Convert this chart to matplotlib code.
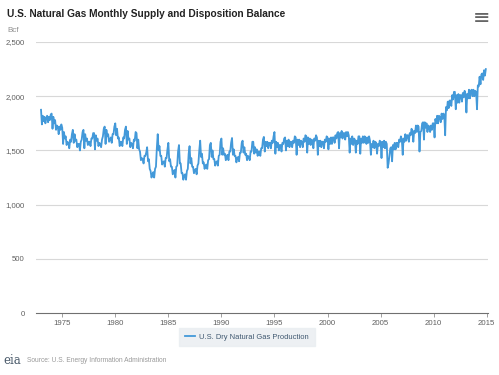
import numpy as np
import pandas as pd
import matplotlib
matplotlib.use("Agg")
import matplotlib.pyplot as plt
import matplotlib.dates as mdates

plt.rcParams["font.family"] = ["Liberation Sans", "DejaVu Sans"]

# Monthly U.S. dry natural gas production (Bcf), Jan..Dec of each year
production = {
    1973: [1875, 1740, 1820, 1770, 1810, 1750, 1800, 1820, 1760, 1810, 1780, 1830],
    1974: [1840, 1700, 1810, 1750, 1780, 1690, 1730, 1720, 1650, 1720, 1690, 1740],
    1975: [1710, 1560, 1670, 1610, 1630, 1550, 1580, 1570, 1520, 1600, 1580, 1650],
    1976: [1690, 1570, 1650, 1590, 1600, 1530, 1560, 1560, 1500, 1580, 1600, 1670],
    1977: [1690, 1520, 1650, 1590, 1610, 1550, 1580, 1580, 1540, 1610, 1610, 1660],
    1978: [1660, 1510, 1640, 1590, 1610, 1540, 1570, 1560, 1530, 1600, 1630, 1700],
    1979: [1720, 1560, 1690, 1630, 1650, 1580, 1600, 1620, 1570, 1650, 1650, 1720],
    1980: [1750, 1640, 1700, 1610, 1620, 1540, 1580, 1580, 1540, 1620, 1610, 1690],
    1981: [1720, 1560, 1680, 1600, 1610, 1530, 1570, 1560, 1520, 1600, 1590, 1670],
    1982: [1660, 1520, 1600, 1510, 1490, 1410, 1430, 1420, 1380, 1450, 1450, 1480],
    1983: [1530, 1400, 1420, 1330, 1310, 1250, 1280, 1300, 1250, 1330, 1350, 1520],
    1984: [1650, 1500, 1540, 1450, 1450, 1370, 1390, 1400, 1350, 1430, 1430, 1510],
    1985: [1570, 1400, 1420, 1350, 1350, 1280, 1310, 1320, 1250, 1350, 1360, 1490],
    1986: [1550, 1380, 1380, 1290, 1290, 1230, 1270, 1280, 1230, 1310, 1330, 1470],
    1987: [1540, 1380, 1430, 1350, 1350, 1290, 1320, 1330, 1280, 1360, 1380, 1500],
    1988: [1590, 1440, 1470, 1380, 1390, 1330, 1360, 1370, 1330, 1410, 1420, 1550],
    1989: [1570, 1440, 1500, 1420, 1420, 1360, 1390, 1400, 1360, 1450, 1460, 1580],
    1990: [1610, 1460, 1520, 1460, 1470, 1410, 1450, 1460, 1410, 1490, 1490, 1570],
    1991: [1615, 1460, 1510, 1450, 1450, 1390, 1430, 1440, 1400, 1480, 1480, 1570],
    1992: [1590, 1480, 1530, 1460, 1470, 1410, 1450, 1440, 1410, 1490, 1490, 1580],
    1993: [1580, 1470, 1530, 1480, 1510, 1450, 1490, 1490, 1450, 1520, 1520, 1600],
    1994: [1625, 1490, 1580, 1540, 1580, 1520, 1570, 1570, 1520, 1590, 1570, 1630],
    1995: [1670, 1470, 1580, 1530, 1570, 1500, 1550, 1550, 1490, 1570, 1560, 1610],
    1996: [1620, 1500, 1590, 1540, 1600, 1530, 1580, 1580, 1530, 1590, 1570, 1630],
    1997: [1620, 1460, 1600, 1550, 1600, 1530, 1590, 1580, 1530, 1610, 1580, 1640],
    1998: [1630, 1480, 1620, 1560, 1610, 1550, 1600, 1590, 1520, 1610, 1590, 1640],
    1999: [1620, 1460, 1590, 1540, 1590, 1530, 1580, 1580, 1520, 1600, 1580, 1630],
    2000: [1620, 1510, 1610, 1560, 1620, 1560, 1620, 1620, 1570, 1640, 1610, 1660],
    2001: [1670, 1520, 1660, 1620, 1680, 1610, 1660, 1660, 1600, 1670, 1630, 1670],
    2002: [1640, 1480, 1610, 1560, 1630, 1550, 1610, 1600, 1480, 1590, 1560, 1630],
    2003: [1630, 1470, 1610, 1570, 1630, 1570, 1630, 1620, 1560, 1620, 1570, 1630],
    2004: [1590, 1460, 1560, 1530, 1590, 1520, 1580, 1570, 1470, 1560, 1540, 1590],
    2005: [1580, 1430, 1580, 1530, 1590, 1520, 1580, 1560, 1340, 1380, 1450, 1520],
    2006: [1530, 1400, 1550, 1510, 1570, 1510, 1570, 1570, 1530, 1600, 1580, 1630],
    2007: [1600, 1460, 1610, 1580, 1650, 1590, 1640, 1640, 1580, 1660, 1640, 1700],
    2008: [1680, 1580, 1680, 1660, 1730, 1670, 1730, 1720, 1490, 1670, 1680, 1750],
    2009: [1760, 1600, 1760, 1710, 1750, 1670, 1730, 1720, 1670, 1730, 1690, 1750],
    2010: [1750, 1620, 1790, 1750, 1820, 1750, 1820, 1810, 1760, 1840, 1790, 1840],
    2011: [1830, 1640, 1900, 1870, 1950, 1890, 1960, 1960, 1910, 2010, 1970, 2040],
    2012: [2040, 1880, 2010, 1940, 2020, 1940, 2010, 2010, 1950, 2030, 1990, 2050],
    2013: [2020, 1850, 2020, 1980, 2060, 1980, 2050, 2060, 2000, 2060, 2000, 2050],
    2014: [2040, 1880, 2100, 2090, 2180, 2110, 2200, 2210, 2150, 2240, 2190, 2250],
}

values = [v for year in sorted(production) for v in production[year]]
dates = pd.date_range("1973-01-01", periods=len(values), freq="MS")

y_ticks = [0, 500, 1000, 1500, 2000, 2500]
x_tick_years = list(range(1975, 2016, 5))

fig = plt.figure(figsize=(4.99, 3.75), dpi=100)
ax = fig.add_axes([0.072, 0.165, 0.906, 0.723])

ax.plot(dates, values, color="#4399d9", linewidth=1.3)

ax.set_ylim(0, 2500)
ax.set_xlim(pd.Timestamp("1972-07-10"), pd.Timestamp("2015-02-15"))
ax.set_yticks(y_ticks)
ax.set_yticklabels([f"{t:,}" for t in y_ticks])
ax.set_xticks([pd.Timestamp(f"{y}-01-01") for y in x_tick_years])
ax.xaxis.set_major_formatter(mdates.DateFormatter("%Y"))

for t in y_ticks[1:]:
    ax.axhline(t, color="#d8d8d8", linewidth=0.8, zorder=0)

for side in ["top", "right", "left"]:
    ax.spines[side].set_visible(False)
ax.spines["bottom"].set_color("#707070")
ax.spines["bottom"].set_linewidth(0.8)

ax.tick_params(axis="y", length=0, labelsize=5.6, labelcolor="#606060", pad=8)
ax.tick_params(axis="x", length=3, width=0.6, color="#909090",
               labelsize=5.6, labelcolor="#606060", pad=2)

fig.text(0.014, 0.975, "U.S. Natural Gas Monthly Supply and Disposition Balance",
         fontsize=7.3, fontweight="bold", color="#222222", va="top", ha="left")
fig.text(0.014, 0.92, "Bcf", fontsize=5.8, color="#909090", va="center", ha="left")
fig.text(0.965, 0.952, "\u2261", fontsize=15, color="#666666", va="center",
         ha="center", family="DejaVu Sans")

leg = ax.legend(["U.S. Dry Natural Gas Production"], loc="center",
                bbox_to_anchor=(0.467, -0.088), fontsize=5.45, frameon=True,
                handlelength=1.3, handletextpad=0.6, borderpad=0.75)
leg.get_frame().set_facecolor("#e9edf1")
leg.get_frame().set_edgecolor("#e9edf1")
leg.get_frame().set_boxstyle("square", pad=0.0)
for txt in leg.get_texts():
    txt.set_color("#3e576f")

fig.text(0.006, 0.022, "eia", fontsize=8.5, color="#4a5a6a",
         family="DejaVu Serif", va="bottom", ha="left")
fig.text(0.054, 0.028, "Source: U.S. Energy Information Administration",
         fontsize=4.8, color="#999999", va="bottom", ha="left")

fig.savefig("out.png", dpi=100, facecolor="white")
